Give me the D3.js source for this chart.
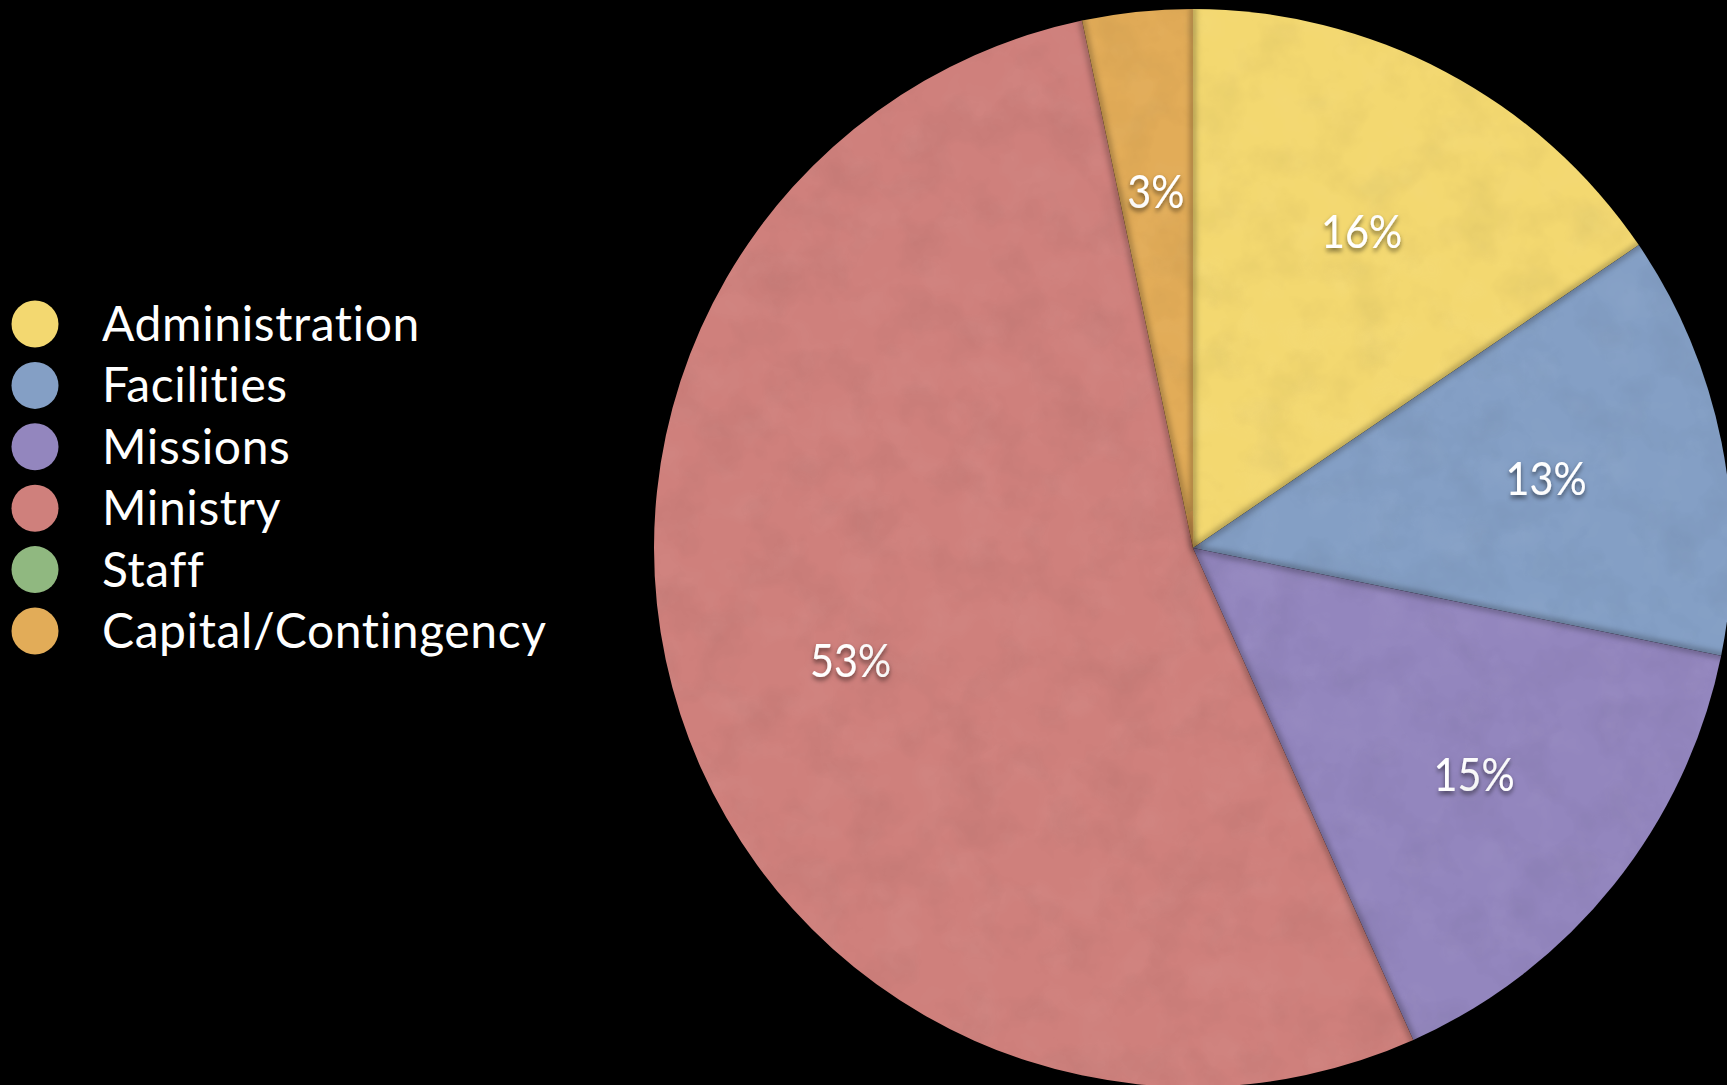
<!DOCTYPE html>
<html>
<head>
<meta charset="utf-8">
<script src="https://cdn.jsdelivr.net/npm/d3@7"></script>
<style>
  html, body { margin: 0; padding: 0; background: #000; overflow: hidden; }
  svg { display: block; }
  text { font-family: Lato, "Open Sans", sans-serif; fill: #fff; }
</style>
</head>
<body>
<svg id="chart" width="1727" height="1085"></svg>
<script>
// ---- data ----
const categories = ["Administration", "Facilities", "Missions", "Ministry", "Staff", "Capital/Contingency"];
const values = [15.5, 12.7, 15.1, 53.4, 0, 3.3];
const colors = ["#F3D870", "#849FC5", "#9386BE", "#CF807C", "#90B880", "#E2AC58"];

const W = 1727, H = 1085;
const svg = d3.select("#chart");
svg.append("rect").attr("width", W).attr("height", H).attr("fill", "#000");

const cx = 1193, cy = 548, R = 539;
const defs = svg.append("defs");

// label shadow
const sh = defs.append("filter").attr("id", "txtShadow").attr("x", "-20%").attr("y", "-20%").attr("width", "140%").attr("height", "160%");
sh.append("feDropShadow").attr("dx", 0).attr("dy", 3).attr("stdDeviation", 2.5)
  .attr("flood-color", "#000").attr("flood-opacity", 0.55);

// blur for seam shadows
defs.append("filter").attr("id", "seamBlur").attr("x", "-10%").attr("y", "-10%").attr("width", "120%").attr("height", "120%")
  .append("feGaussianBlur").attr("stdDeviation", 3);

// paper texture (light + dark mottling)
const tex = defs.append("filter").attr("id", "paper").attr("x", 0).attr("y", 0).attr("width", "100%").attr("height", "100%");
tex.append("feTurbulence").attr("type", "fractalNoise").attr("baseFrequency", 0.02).attr("numOctaves", 4).attr("seed", 7).attr("result", "n");
tex.append("feColorMatrix").attr("in", "n").attr("type", "matrix")
  .attr("values", "0 0 0 0 0  0 0 0 0 0  0 0 0 0 0  1.4 0 0 0 -0.6");
const tex2 = defs.append("filter").attr("id", "paperLight").attr("x", 0).attr("y", 0).attr("width", "100%").attr("height", "100%");
tex2.append("feTurbulence").attr("type", "fractalNoise").attr("baseFrequency", 0.025).attr("numOctaves", 3).attr("seed", 11).attr("result", "n");
tex2.append("feColorMatrix").attr("in", "n").attr("type", "matrix")
  .attr("values", "0 0 0 0 1  0 0 0 0 1  0 0 0 0 1  1.4 0 0 0 -0.6");

defs.append("clipPath").attr("id", "pieClip")
  .append("circle").attr("cx", cx).attr("cy", cy).attr("r", R);

const pie = d3.pie().sort(null).value(d => d)(values);
const arc = d3.arc().innerRadius(0).outerRadius(R);
const labelArc = d3.arc().innerRadius(R * 0.668).outerRadius(R * 0.668);

const g = svg.append("g").attr("transform", `translate(${cx},${cy})`);
g.selectAll("path.slice").data(pie.filter(d => d.value > 0)).join("path")
  .attr("class", "slice")
  .attr("d", arc)
  .attr("fill", d => colors[d.index]);

// subtle paper texture over the pie
const texG = svg.append("g").attr("clip-path", "url(#pieClip)");
texG.append("rect").attr("x", cx - R).attr("y", cy - R).attr("width", 2 * R).attr("height", 2 * R)
  .attr("filter", "url(#paper)").attr("opacity", 0.07);
texG.append("rect").attr("x", cx - R).attr("y", cy - R).attr("width", 2 * R).attr("height", 2 * R)
  .attr("filter", "url(#paperLight)").attr("opacity", 0.06);

// soft shadows along the slice seams
const seams = svg.append("g").attr("clip-path", "url(#pieClip)")
  .append("g").attr("transform", `translate(${cx},${cy})`).attr("filter", "url(#seamBlur)");
pie.filter(d => d.value > 0).forEach(d => {
  const a = d.startAngle;
  seams.append("line")
    .attr("x1", 0).attr("y1", 0)
    .attr("x2", Math.sin(a) * R * 1.1).attr("y2", -Math.cos(a) * R * 1.1)
    .attr("stroke", "#000").attr("stroke-opacity", 0.28).attr("stroke-width", 5);
  seams.append("line")
    .attr("x1", 0).attr("y1", 0)
    .attr("x2", Math.sin(a) * R * 1.1).attr("y2", -Math.cos(a) * R * 1.1)
    .attr("stroke", "#3a2a10").attr("stroke-opacity", 0.5).attr("stroke-width", 1);
});

// percentage labels
g.selectAll("text.pct").data(pie.filter(d => d.value > 0)).join("text")
  .attr("class", "pct")
  .attr("transform", d => `translate(${labelArc.centroid(d)}) scale(0.9,1)`)
  .attr("text-anchor", "middle")
  .attr("dominant-baseline", "central")
  .attr("font-size", 46)
  .attr("filter", "url(#txtShadow)")
  .text(d => Math.round(d.value) + "%");

// legend
const legend = svg.append("g");
const ly = d3.scalePoint().domain(categories).range([324, 631]);
const items = legend.selectAll("g.item").data(categories).join("g")
  .attr("class", "item")
  .attr("transform", d => `translate(0,${ly(d)})`);
items.append("circle").attr("cx", 35).attr("cy", 0).attr("r", 23.5)
  .attr("fill", (d, i) => colors[i]);
items.append("text").attr("x", 102).attr("y", 17)
  .attr("font-size", 48)
  .attr("letter-spacing", 0.6)
  .text(d => d);
</script>
</body>
</html>
